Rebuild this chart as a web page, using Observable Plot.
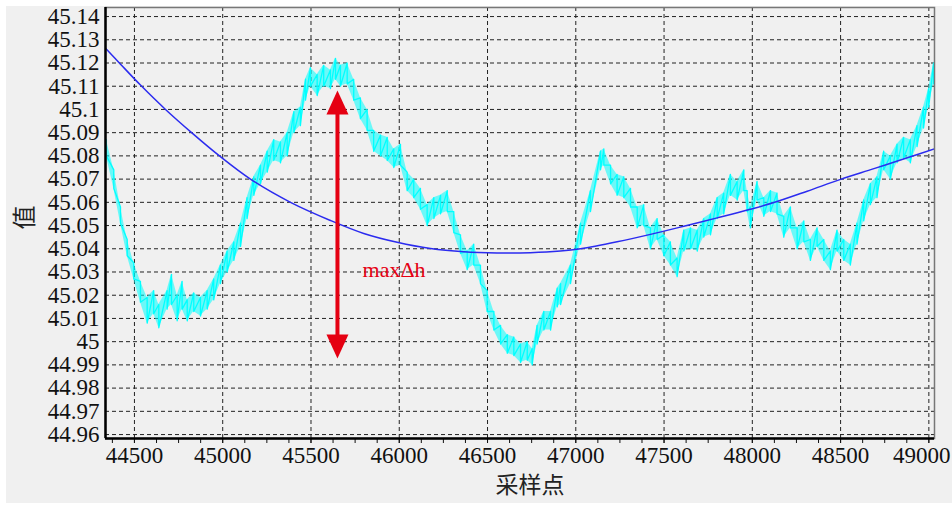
<!DOCTYPE html>
<html>
<head>
<meta charset="utf-8">
<script src="https://cdn.jsdelivr.net/npm/d3@7"></script>
<script src="https://cdn.jsdelivr.net/npm/@observablehq/plot@0.6"></script>
<style>
  html, body { margin: 0; padding: 0; background: #ffffff; }
  #wrap { position: relative; width: 952px; height: 505px; }
  #panel { position: absolute; left: 6px; top: 6px; width: 946px; height: 497px; background: #f0f0f0; }
  #chart { position: absolute; left: 0; top: 0; }
</style>
</head>
<body>
<div id="wrap"><div id="panel"></div><div id="chart"></div></div>
<script>
// ---- noisy measured signal (upper / lower envelope read per sample) ----
const sampleX = [44341,44383,44421,44459,44496,44534,44572,44609,44638,44685,44710,44742,44770,44799,44836,44874,44912,44949,44987,45025,45063,45101,45138,45176,45214,45252,45289,45327,45365,45403,45440,45469,45497,45535,45572,45610,45639,45667,45705,45742,45780,45818,45855,45894,45932,45969,46007,46045,46082,46120,46158,46196,46234,46272,46309,46347,46385,46422,46460,46498,46536,46574,46612,46649,46687,46725,46753,46781,46819,46857,46895,46914,46970,47027,47083,47140,47159,47197,47234,47272,47310,47348,47385,47423,47461,47499,47536,47574,47612,47650,47688,47725,47763,47801,47838,47876,47914,47952,47971,47989,48027,48065,48103,48140,48178,48216,48254,48292,48329,48367,48405,48442,48480,48518,48555,48593,48631,48669,48706,48744,48782,48820,48857,48895,48933,48970,48999,49027];
const sampleHi = [45.087,45.074,45.058,45.044,45.034,45.026,45.019,45.022,45.016,45.022,45.029,45.020,45.026,45.018,45.021,45.019,45.022,45.027,45.033,45.039,45.043,45.051,45.062,45.071,45.076,45.082,45.087,45.086,45.090,45.099,45.101,45.113,45.118,45.115,45.119,45.117,45.122,45.119,45.120,45.113,45.105,45.100,45.091,45.089,45.088,45.083,45.085,45.073,45.070,45.066,45.059,45.062,45.063,45.065,45.056,45.046,45.039,45.042,45.033,45.022,45.013,45.007,45.003,45.002,44.999,45.000,44.997,45.007,45.013,45.013,45.023,45.025,45.033,45.051,45.065,45.082,45.083,45.076,45.072,45.071,45.066,45.058,45.059,45.049,45.053,45.046,45.043,45.036,45.048,45.049,45.048,45.053,45.055,45.062,45.064,45.072,45.069,45.074,45.065,45.058,45.069,45.062,45.065,45.064,45.054,45.058,45.049,45.052,45.044,45.049,45.044,45.039,45.048,45.044,45.042,45.051,45.061,45.068,45.071,45.082,45.080,45.085,45.088,45.087,45.093,45.101,45.109,45.120];
const sampleLo = [45.080,45.066,45.051,45.037,45.027,45.017,45.008,45.012,45.006,45.014,45.016,45.009,45.014,45.009,45.013,45.011,45.014,45.018,45.025,45.030,45.035,45.041,45.053,45.063,45.068,45.073,45.078,45.077,45.080,45.090,45.093,45.104,45.110,45.106,45.110,45.109,45.113,45.110,45.111,45.104,45.096,45.091,45.082,45.080,45.078,45.075,45.076,45.065,45.062,45.057,45.050,45.053,45.055,45.056,45.047,45.038,45.031,45.033,45.025,45.013,45.005,44.999,44.995,44.994,44.991,44.992,44.990,44.999,45.005,45.005,45.015,45.016,45.025,45.042,45.056,45.074,45.076,45.068,45.063,45.062,45.058,45.049,45.050,45.040,45.044,45.037,45.033,45.028,45.039,45.040,45.039,45.045,45.046,45.053,45.055,45.063,45.061,45.065,45.056,45.049,45.061,45.054,45.056,45.055,45.045,45.049,45.040,45.043,45.035,45.041,45.035,45.031,45.039,45.035,45.033,45.042,45.052,45.059,45.062,45.074,45.070,45.077,45.079,45.077,45.084,45.092,45.101,45.111];

// ---- fitted smooth curve ----
const fitX = [44336,44421,44534,44676,44827,44978,45157,45384,45610,45799,45988,46177,46366,46554,46743,46913,47027,47234,47423,47612,47801,47989,48122,48311,48500,48689,48878,49035];
const fitY = [45.1264,45.1195,45.1105,45.1000,45.0898,45.0802,45.0700,45.0600,45.0522,45.0466,45.0428,45.0401,45.0387,45.0382,45.0383,45.0390,45.0400,45.0430,45.0462,45.0497,45.0533,45.0570,45.0599,45.0648,45.0699,45.0745,45.0792,45.0831];

// ---- axes ----
const xTicks = [44500,45000,45500,46000,46500,47000,47500,48000,48500,49000];
const xTickLabels = ["44500","45000","45500","46000","46500","47000","47500","48000","48500","49000"];
const yTicks = [44.96,44.97,44.98,44.99,45.00,45.01,45.02,45.03,45.04,45.05,45.06,45.07,45.08,45.09,45.10,45.11,45.12,45.13,45.14];
const yTickLabels = ["44.96","44.97","44.98","44.99","45","45.01","45.02","45.03","45.04","45.05","45.06","45.07","45.08","45.09","45.1","45.11","45.12","45.13","45.14"];
const xTitle = "采样点";
const yTitle = "值";

// ---- annotation ----
const arrowX = 45650;
const arrowTop = 45.1082;
const arrowBottom = 44.9927;
const annotText = "maxΔh";
const annotX = 45792;
const annotY = 45.0307;

const noisy = sampleX.flatMap((x, i) => [{x, y: sampleHi[i]}, {x, y: sampleLo[i]}]);
const band = sampleX.map((x, i) => ({x, hi: sampleHi[i], lo: sampleLo[i]}));
const fit = fitX.map((x, i) => ({x, y: fitY[i]}));
const minorTicks = d3.range(44375, 49001, 125);
const xLabelRows = xTicks.map((x, i) => ({x, label: xTickLabels[i], last: i === xTicks.length - 1}));

const red = "#e50012";
const headUp = {draw(ctx) { ctx.moveTo(0, 0); ctx.lineTo(11, 24); ctx.lineTo(-11, 24); ctx.closePath(); }};
const headDown = {draw(ctx) { ctx.moveTo(0, 0); ctx.lineTo(11, -24); ctx.lineTo(-11, -24); ctx.closePath(); }};
const serif = "'Liberation Serif', 'Times New Roman', serif";

const chart = Plot.plot({
  width: 952,
  height: 505,
  marginLeft: 105,
  marginRight: 18,
  marginTop: 7,
  marginBottom: 67,
  style: {background: "transparent", fontFamily: serif, fontSize: "23px", color: "#111"},
  x: {domain: [44336, 49032]},
  y: {domain: [44.9583, 45.1439]},
  marks: [
    Plot.gridX({ticks: xTicks, stroke: "#222", strokeOpacity: 1, strokeDasharray: "4,3"}),
    Plot.gridY({ticks: yTicks, stroke: "#222", strokeOpacity: 1, strokeDasharray: "4,3"}),
    Plot.areaY(band, {x: "x", y1: "lo", y2: "hi", fill: "#00ffff", fillOpacity: 0.55, clip: true}),
    Plot.line(noisy, {x: "x", y: "y", stroke: "#00ffff", strokeWidth: 1.3, clip: true}),
    Plot.line(fit, {x: "x", y: "y", stroke: "#2b2bef", strokeWidth: 1.5, curve: "catmull-rom", clip: true}),
    Plot.ruleX([arrowX], {y1: arrowBottom + 0.008, y2: arrowTop - 0.008, stroke: red, strokeWidth: 4}),
    Plot.dot([{x: arrowX, y: arrowTop}], {x: "x", y: "y", symbol: headUp, fill: red, stroke: "none", r: 10}),
    Plot.dot([{x: arrowX, y: arrowBottom}], {x: "x", y: "y", symbol: headDown, fill: red, stroke: "none", r: 10}),
    Plot.text([annotText], {x: annotX, y: annotY, text: d => d, textAnchor: "start", lineAnchor: "middle", fill: red, fontSize: 22, fontFamily: serif}),
    Plot.frame({stroke: "#777", strokeWidth: 1.5}),
    Plot.axisX({ticks: minorTicks, tickSize: 5, tickFormat: () => "", label: null, stroke: "#111"}),
    Plot.axisX({ticks: xTicks, tickSize: 5, tickFormat: () => "", label: null, stroke: "#111"}),
    Plot.text(xLabelRows.filter(d => !d.last), {x: "x", text: "label", frameAnchor: "bottom", lineAnchor: "top", dy: 8, fill: "#111", fontSize: 23, fontFamily: serif}),
    Plot.text(xLabelRows.filter(d => d.last), {x: "x", text: "label", frameAnchor: "bottom", lineAnchor: "top", dy: 8, dx: -7, fill: "#111", fontSize: 23, fontFamily: serif}),
    Plot.axisY({ticks: yTicks, tickSize: 0, tickPadding: 6, tickFormat: (d, i) => yTickLabels[i], label: null, fill: "#111"}),
    Plot.ruleX([44336], {stroke: "#000", strokeWidth: 2.5}),
    Plot.ruleY([44.9583], {stroke: "#000", strokeWidth: 2.5}),
    Plot.text([xTitle], {frameAnchor: "bottom", text: d => d, dx: 10, dy: 47, lineAnchor: "middle", fontSize: 23, fontFamily: "'Noto Sans CJK SC', sans-serif", fill: "#222"}),
    Plot.text([yTitle], {frameAnchor: "left", text: d => d, rotate: -90, dx: -80, dy: 6.5, lineAnchor: "middle", fontSize: 24, fontFamily: "'Noto Sans CJK SC', sans-serif", fill: "#222"})
  ]
});
document.getElementById("chart").appendChild(chart);
</script>
</body>
</html>
